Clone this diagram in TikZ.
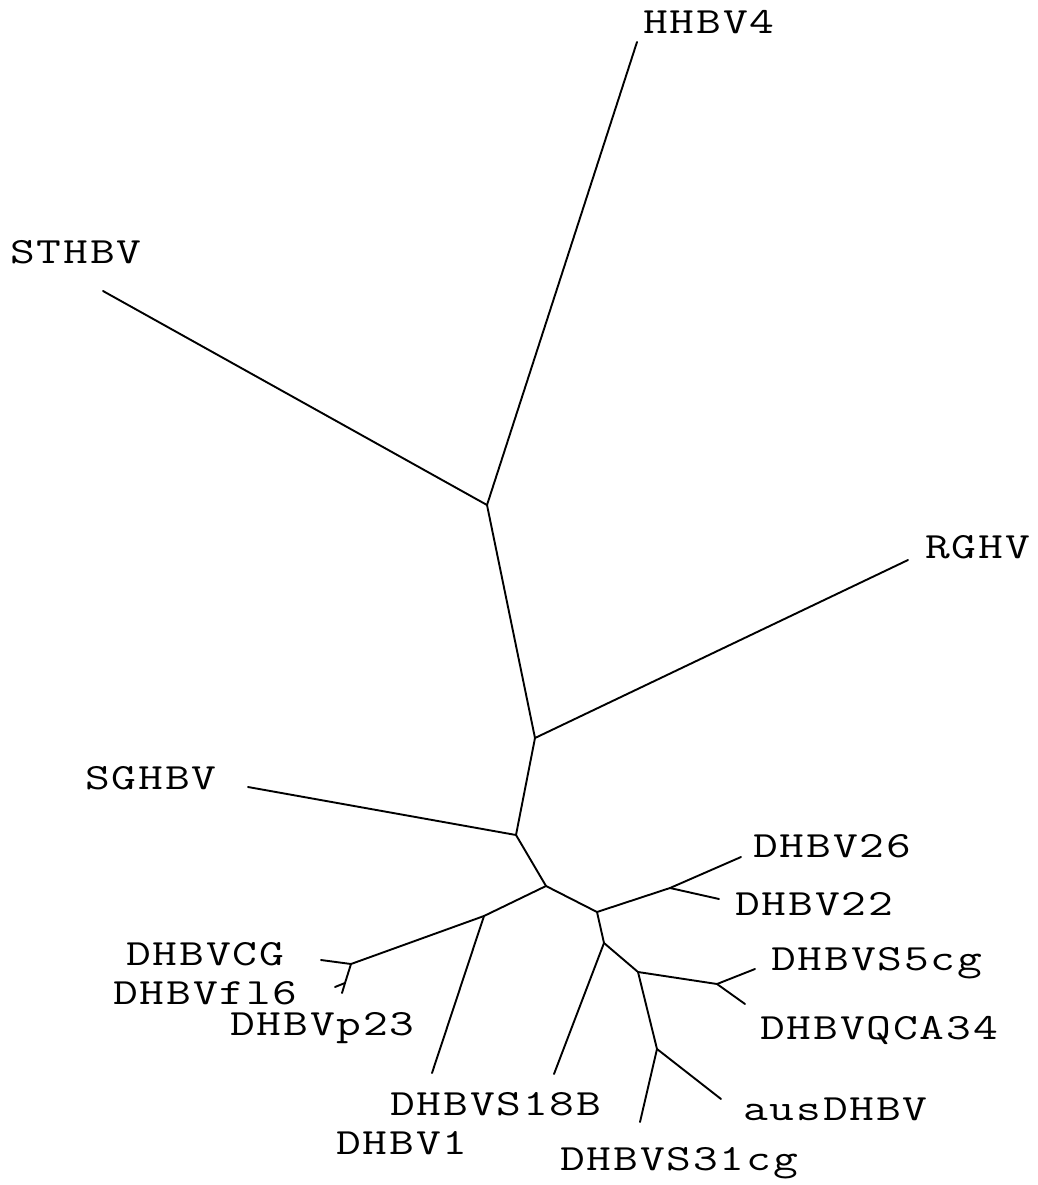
\documentclass[tikz,border=0pt]{standalone}
\usepackage{fontspec}
\newfontfamily\labfont[FakeStretch=1.3,LetterSpace=5]{Latin Modern Mono}
\begin{document}
\begin{tikzpicture}[x=1pt,y=-1pt,
  branch/.style={draw=black,line width=1.9pt,line cap=round,line join=round},
  lab/.style={anchor=west,inner sep=0pt,font=\labfont\fontsize{37}{37}\selectfont}]
\useasboundingbox (0,0) rectangle (1037,1185);
% internal nodes
\coordinate (A) at (487,505);
\coordinate (B) at (535,738);
\coordinate (C) at (516,835);
\coordinate (D) at (546,886);
\coordinate (E) at (597,912);
\coordinate (F) at (484,916);
\coordinate (G) at (351,964);
\coordinate (H) at (345,983);
\coordinate (I) at (670,888);
\coordinate (J) at (604,943);
\coordinate (K) at (638,972);
\coordinate (L) at (717,984);
\coordinate (M) at (657,1049);
% tips
\coordinate (tHHBV4) at (637,42);
\coordinate (tSTHBV) at (103,291);
\coordinate (tRGHV) at (908,560);
\coordinate (tSGHBV) at (248,787);
\coordinate (tDHBV1) at (432,1073);
\coordinate (tDHBVCG) at (321,960);
\coordinate (tDHBVfl6) at (335,987);
\coordinate (tDHBVp23) at (342,993);
\coordinate (tDHBV26) at (741,857);
\coordinate (tDHBV22) at (719,899);
\coordinate (tDHBVS18B) at (554,1074);
\coordinate (tDHBVS5cg) at (755,969);
\coordinate (tDHBVQCA34) at (745,1004);
\coordinate (tDHBVS31cg) at (640,1122);
\coordinate (tausDHBV) at (721,1099);
% branches
\draw[branch] (A) -- (tHHBV4);
\draw[branch] (A) -- (tSTHBV);
\draw[branch] (A) -- (B);
\draw[branch] (B) -- (tRGHV);
\draw[branch] (B) -- (C);
\draw[branch] (C) -- (tSGHBV);
\draw[branch] (C) -- (D);
\draw[branch] (D) -- (E);
\draw[branch] (D) -- (F);
\draw[branch] (F) -- (tDHBV1);
\draw[branch] (F) -- (G);
\draw[branch] (G) -- (tDHBVCG);
\draw[branch] (G) -- (H);
\draw[branch] (H) -- (tDHBVfl6);
\draw[branch] (H) -- (tDHBVp23);
\draw[branch] (E) -- (I);
\draw[branch] (I) -- (tDHBV26);
\draw[branch] (I) -- (tDHBV22);
\draw[branch] (E) -- (J);
\draw[branch] (J) -- (tDHBVS18B);
\draw[branch] (J) -- (K);
\draw[branch] (K) -- (L);
\draw[branch] (L) -- (tDHBVS5cg);
\draw[branch] (L) -- (tDHBVQCA34);
\draw[branch] (K) -- (M);
\draw[branch] (M) -- (tDHBVS31cg);
\draw[branch] (M) -- (tausDHBV);
% labels
\node[lab] (lHHBV4) at (643,22.5) {HHBV4};
\node[lab] (lSTHBV) at (10,252.5) {STHBV};
\node[lab] (lRGHV) at (925,547.5) {RGHV};
\node[lab] (lSGHBV) at (85,778) {SGHBV};
\node[lab] (lDHBV26) at (753,846) {DHBV26};
\node[lab] (lDHBV22) at (735,904) {DHBV22};
\node[lab] (lDHBVCG) at (126,954) {DHBVCG};
\node[lab] (lDHBVfl6) at (113,993) {DHBVfl6};
\node[lab] (lDHBVp23) at (230,1028) {DHBVp23};
\node[lab] (lDHBVS18B) at (390,1104) {DHBVS18B};
\node[lab] (lDHBV1) at (336,1143) {DHBV1};
\node[lab] (lDHBVS31cg) at (560,1163) {DHBVS31cg};
\node[lab] (lausDHBV) at (743,1109) {ausDHBV};
\node[lab] (lDHBVS5cg) at (771,963) {DHBVS5cg};
\node[lab] (lDHBVQCA34) at (760,1030) {DHBVQCA34};
\end{tikzpicture}
\end{document}
